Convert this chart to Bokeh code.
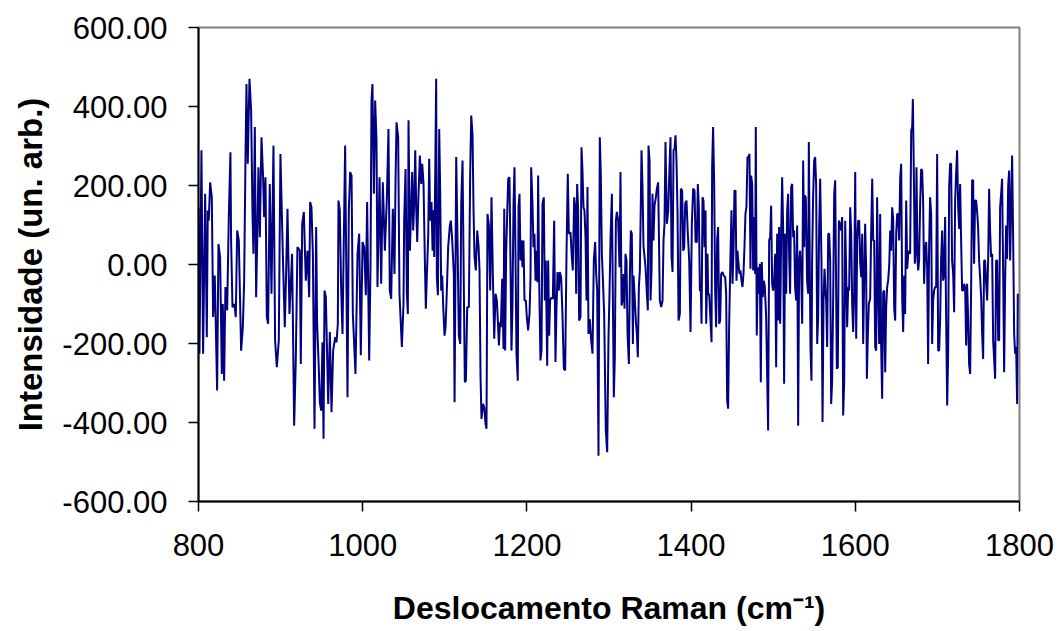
from bokeh.plotting import figure
from bokeh.models import Range1d, FixedTicker, PrintfTickFormatter
from bokeh.embed import file_html
from bokeh.resources import INLINE

# Raman shift (cm^-1) and intensity (arbitrary units) of the measured spectrum
raman_shift = [
    800.0, 801.2, 803.6, 805.6, 808.1, 810.1, 811.3, 812.5, 814.2, 816.2, 817.8, 819.8,
    822.7, 824.3, 826.3, 828.4, 829.6, 831.2, 832.8, 834.9, 836.9, 838.9, 839.7, 841.4,
    843.8, 845.4, 847.1, 849.1, 851.9, 854.0, 855.6, 857.2, 858.4, 860.0, 862.1, 864.1,
    865.7, 866.9, 868.6, 870.2, 871.8, 873.0, 874.7, 876.7, 878.7, 879.9, 881.6, 883.2,
    884.8, 886.8, 888.9, 891.3, 893.3, 895.4, 897.8, 899.8, 902.7, 905.1, 906.7, 908.4,
    910.8, 914.0, 916.5, 918.5, 920.5, 923.4,
    924.6, 926.3, 928.3, 930.7, 932.8, 934.8, 936.0, 937.6, 939.3, 941.3, 943.3, 944.5,
    946.6, 947.8, 949.4, 951.0, 952.3, 953.5, 955.1, 958.0, 960.0, 962.0, 964.0, 966.5,
    968.1, 969.7, 970.5, 972.1, 973.8, 975.4, 978.6, 981.5, 983.1, 984.7, 986.4, 988.0,
    991.2, 993.7, 995.7, 997.7, 999.8, 1001.8, 1003.8, 1005.4, 1007.9, 1009.5, 1010.7, 1011.9,
    1013.6, 1015.2, 1016.8, 1018.0, 1020.5, 1022.5, 1024.5, 1027.0, 1029.4, 1031.4, 1033.0, 1034.7,
    1036.7, 1038.7, 1040.0, 1041.2, 1043.2, 1044.8, 1047.7, 1049.7,
    1050.5, 1052.2, 1053.8, 1055.0, 1055.8, 1057.5, 1058.7, 1060.3, 1061.5, 1062.7, 1064.0, 1065.2,
    1066.4, 1067.6, 1069.6, 1071.3, 1072.5, 1074.1, 1075.7, 1076.9, 1078.2, 1079.8, 1081.0, 1082.2,
    1083.8, 1085.1, 1086.3, 1087.1, 1088.3, 1089.5, 1090.3, 1091.6, 1093.2, 1094.4, 1095.6, 1096.8,
    1098.1, 1099.7, 1100.9, 1102.1, 1104.1, 1106.2, 1107.4, 1109.0, 1111.0, 1111.9, 1113.9, 1115.5,
    1117.1, 1118.8, 1120.0, 1121.6, 1122.8, 1124.4, 1125.7, 1127.3, 1129.3, 1130.9, 1132.2, 1133.8,
    1135.0, 1136.2, 1137.8, 1139.5, 1141.1, 1142.3, 1143.5, 1144.7, 1146.4, 1148.0, 1149.6, 1150.8,
    1152.0, 1153.7, 1155.3, 1156.9, 1158.5, 1160.2, 1161.8, 1163.4, 1164.6, 1165.9, 1167.1, 1168.3,
    1169.9, 1171.5, 1172.4,
    1173.5, 1174.7, 1175.9, 1177.2, 1178.8, 1180.0, 1181.2, 1182.4, 1183.7, 1184.9, 1186.1, 1187.3,
    1188.9, 1189.8, 1191.0, 1192.2, 1193.4, 1194.6, 1195.8, 1197.1, 1198.7, 1199.9, 1201.5, 1203.2,
    1204.4, 1205.2, 1206.8, 1208.0, 1209.2, 1210.5, 1211.7, 1212.9, 1213.7, 1214.9, 1216.5, 1217.8,
    1219.0, 1220.6, 1221.8, 1223.0, 1224.7, 1225.9, 1227.1, 1228.3, 1230.0, 1231.6, 1233.2, 1234.8,
    1236.0, 1237.3, 1238.9, 1240.1, 1241.7, 1243.3, 1245.0, 1246.6, 1248.2, 1249.8, 1251.1, 1253.1,
    1254.7, 1255.9, 1257.6, 1258.8, 1260.0, 1261.2, 1262.4, 1263.6, 1265.3, 1266.5, 1267.7, 1268.9,
    1270.1, 1271.4, 1272.6, 1273.8, 1275.0, 1276.6, 1278.3, 1279.9, 1281.5, 1283.1, 1284.4, 1285.6,
    1287.2, 1288.8, 1290.0, 1291.3, 1292.5, 1294.1, 1296.1, 1297.8,
    1299.4, 1300.6, 1301.9, 1303.5, 1304.7, 1305.9, 1307.1, 1308.4, 1309.6, 1311.2, 1312.8, 1314.0,
    1315.3, 1316.5, 1317.7, 1318.9, 1320.1, 1321.3, 1322.6, 1324.2, 1325.4, 1326.6, 1327.8, 1329.1,
    1329.9, 1331.1, 1332.7, 1333.9, 1335.1, 1336.4, 1337.6, 1338.8, 1339.6, 1340.8, 1342.0, 1343.3,
    1344.5, 1346.1, 1347.3, 1348.1, 1349.4, 1350.6, 1351.8, 1353.0, 1354.2, 1355.4, 1357.1, 1358.3,
    1359.9, 1361.9, 1363.6, 1365.2, 1366.4, 1367.6, 1368.8, 1370.5, 1372.1, 1373.7, 1374.9, 1376.2,
    1377.4, 1378.6, 1379.8, 1381.0, 1382.2, 1383.5, 1384.7, 1386.3, 1387.5, 1389.1, 1390.4, 1391.6,
    1392.8, 1394.4, 1396.0, 1397.7, 1399.3, 1400.9, 1402.5, 1404.2, 1405.4, 1407.0, 1408.2, 1409.4,
    1410.7, 1411.9, 1412.7, 1413.9, 1415.1, 1416.3, 1417.6, 1418.4, 1420.0, 1420.8, 1422.0, 1423.2,
    1424.9,
    1425.6, 1426.8, 1428.1, 1429.3, 1430.5, 1431.7, 1432.9, 1434.2, 1435.4, 1436.6, 1438.2, 1439.8,
    1441.5, 1442.7, 1443.9, 1445.1, 1446.3, 1448.0, 1449.2, 1450.4, 1451.6, 1452.8, 1454.1, 1455.3,
    1456.5, 1457.7, 1458.9, 1460.1, 1461.4, 1462.6, 1463.8, 1465.0, 1466.2, 1467.4, 1468.7, 1469.9,
    1471.1, 1472.3, 1473.1, 1474.4, 1475.6, 1476.8, 1478.0, 1478.8, 1480.0, 1481.3, 1482.5, 1483.7,
    1484.9, 1486.1, 1487.3, 1488.6, 1489.8, 1491.4, 1492.6, 1493.8, 1495.1, 1496.3, 1497.5, 1498.7,
    1499.9, 1501.1, 1502.4, 1503.6, 1504.8, 1506.0, 1507.2, 1508.5, 1509.7, 1510.9, 1512.1, 1513.3,
    1514.5, 1515.8, 1517.0, 1518.2, 1519.4, 1520.6, 1521.9, 1523.1, 1524.3, 1525.5, 1526.7, 1527.9,
    1529.2, 1530.4, 1531.6, 1532.8, 1534.0, 1535.3, 1536.5, 1537.7, 1538.5, 1539.7, 1541.3, 1542.6,
    1543.4, 1544.6, 1545.4, 1546.6, 1547.4, 1548.6, 1549.9, 1551.1,
    1552.3, 1553.6, 1554.8, 1556.0, 1557.2, 1558.8, 1560.1, 1561.3, 1562.5, 1563.7, 1564.5, 1565.7,
    1567.0, 1568.2, 1569.4, 1570.6, 1571.8, 1573.1, 1574.3, 1575.5, 1576.7, 1577.5, 1578.7, 1580.0,
    1581.2, 1582.8, 1584.0, 1585.2, 1586.5, 1587.7, 1588.9, 1590.1, 1591.3, 1592.5, 1593.8, 1595.0,
    1596.2, 1597.4, 1598.6, 1599.9, 1601.1, 1602.3, 1603.5, 1604.7, 1606.0, 1607.2, 1608.4, 1609.6,
    1610.8, 1612.0, 1613.2, 1614.1, 1615.3, 1616.5, 1618.1, 1619.3, 1620.6, 1621.8, 1623.0, 1624.2,
    1625.4, 1626.6, 1627.9, 1629.1, 1630.3, 1631.5, 1632.7, 1634.0, 1635.2, 1636.4, 1637.6, 1638.8,
    1640.0, 1641.3, 1642.5, 1643.7, 1644.9, 1646.1, 1647.4, 1648.6, 1649.8, 1651.0, 1652.2, 1653.4,
    1654.7, 1655.9, 1657.1, 1658.3, 1659.5, 1660.7, 1662.0, 1663.2, 1664.4, 1665.6, 1666.8, 1668.1,
    1669.3, 1670.1, 1671.3, 1672.5, 1673.7, 1674.5, 1675.8, 1676.6,
    1677.7, 1679.0, 1680.2, 1681.4, 1682.6, 1683.8, 1685.1, 1686.3, 1687.5, 1688.7, 1689.9, 1691.1,
    1692.4, 1693.6, 1694.8, 1696.0, 1697.2, 1698.5, 1699.7, 1700.9, 1702.1, 1703.3, 1704.5, 1705.8,
    1707.0, 1708.2, 1709.4, 1710.6, 1711.9, 1713.1, 1714.3, 1715.5, 1716.7, 1717.9, 1719.2, 1720.4,
    1721.6, 1722.8, 1724.0, 1725.3, 1726.5, 1727.7, 1728.9, 1730.1, 1731.3, 1732.6, 1733.8, 1735.0,
    1736.2, 1737.4, 1738.6, 1739.9, 1741.1, 1742.3, 1743.5, 1744.7, 1745.9, 1747.2, 1748.4, 1749.6,
    1750.8, 1752.0, 1753.3, 1754.5, 1755.7, 1756.9, 1758.1, 1759.4, 1760.6, 1761.8, 1763.0, 1764.2,
    1765.4, 1766.7, 1767.9, 1769.1, 1770.3, 1771.5, 1772.8, 1774.0, 1775.2, 1776.4, 1777.6, 1778.8,
    1780.1, 1781.3, 1782.5, 1783.7, 1784.9, 1786.2, 1787.4, 1788.6, 1789.8, 1791.0, 1792.2, 1793.5,
    1794.7, 1795.9, 1797.1, 1797.9,
]

intensity = [
    145, -226, 289, -226, 179, -184, 137, 111, 208, 170, -133, -28,
    -319, 52, 19, -277, -100, -294, -57, -116, 120, 284, 61, -108,
    -100, -133, 86, 61, -218, -159, -41, 263, 457, 255, 470, 390,
    137, 27, 348, -83, 95, 246, 69, 322, 221, 120, 221, -133,
    -150, 204, -74, 301, -192, -260, -192, 280, 27, -159, -24, 141,
    -125, 27, -408, -243, 44, 35,
    -252, 103, 133, -41, 35, -83, 158, 145, 27, -416, 95, -150,
    -268, -349, -370, -197, -441, -66, -83, -353, -171, -374, -218, -184,
    -197, -150, 162, 137, -66, -176, 301, -336, 137, 234, 225, -125,
    -277, 27, 78, -230, 57, 44, -78, 158, -243, -7, 415, 457,
    179, 415, 314, -57, 221, -49, 208, 35, 166, 343, -66, -87,
    141, -24, 213, 360, 322, -74, -209, -100,
    111, 242, -74, -125, 365, 35, 120, 234, 86, 154, 289, 141,
    57, 154, 276, 204, 255, 204, 10, -112, -24, 73, 268, 111,
    158, 35, 137, 19, 221, 470, -32, -78, 343, 183, -66, -28,
    -108, -180, -159, -91, 44, 99, 111, 61, -24, -349, 272, 61,
    -180, -201, 154, 263, 19, -298, -294, -108, -108, 230, 377, 327,
    137, 19, -15, 86, 48, -15, -281, -391, -353, -361, -403, -416,
    128, 99, -66, 170, -24, -188, -74, -91, -142, -205, -146, -159,
    -36, -214, 141,
    -218, 27, 120, 217, 221, 10, -218, -108, 154, 246, 27, -226,
    -294, 145, 179, 10, 61, -7, 61, -91, -91, -133, -167, -125,
    -32, 246, 154, 44, 78, -41, 35, -45, 225, -32, -243, -218,
    154, 170, -91, 10, -256, 10, -180, -91, -83, -87, 111, -247,
    -116, -19, -66, -19, -32, -125, -264, -268, 19, 230, 78, 82,
    19, -15, 170, 145, -74, 204, 137, -142, -133, 297, 238, 145,
    137, 69, -91, 196, -176, -138, -192, -226, 10, 57, -24, -66,
    -484, 322, 230, 27, -32, -125, -420, -475,
    -184, -74, 69, 179, -83, -336, -235, 111, 133, 111, -7, 234,
    -104, -91, -24, -112, 27, 10, -176, -252, -32, 86, 78, -201,
    -28, -74, -142, -176, -235, -57, -15, 162, 289, 196, 48, 19,
    -7, -74, -116, 301, 263, -91, -15, 179, 61, 149, 170, 192,
    208, -91, -108, -91, 61, 103, 310, 103, 137, 246, 322, 19,
    -19, 289, 293, 327, 263, 128, -142, -125, 192, 187, 35, 44,
    154, 162, 78, 10, -171, 103, 192, 187, 57, 57, 204, 145,
    -66, -66, -150, 170, 162, 44, 137, -150, 27, -78, -74, -125,
    -197,
    246, 348, 204, -66, -159, 61, 95, -150, -142, -24, -19, -28,
    -32, -74, -344, -365, -159, 27, 137, -49, 31, 187, 187, -41,
    35, 2, -24, -15, -41, -57, -24, 44, 128, 145, 272, 272,
    280, -11, 225, 204, -15, 120, -24, 348, -180, -7, -74, 2,
    -298, 6, -83, -41, -57, -133, -277, -420, 61, 69, 149, -49,
    -66, -41, 27, -260, 78, -142, 95, -150, 69, 221, 95, -302,
    78, -74, 137, 179, 27, -74, 196, 204, 69, 86, -57, -91,
    99, -408, 10, 35, -19, -150, 263, 44, 175, 170, -41, -74,
    310, -7, -209, -294, 10, 170, 263, 272,
    204, -201, -125, 95, 217, 10, -399, -91, -11, -66, -91, -209,
    78, 78, 10, -353, -294, -74, 179, 213, -74, -264, -260, 111,
    103, 86, 120, -382, -294, 111, -24, -159, -57, -66, 145, 78,
    -100, -171, -74, 234, -188, 61, 111, 111, 2, -32, 78, -201,
    -41, 103, -7, -289, -176, -100, -87, 78, 217, 61, 61, -209,
    -218, 170, -66, -201, 128, -205, -340, -70, -66, -273, -108, -57,
    -41, -3, 86, 35, 145, 116, -112, -142, 78, 128, 128, 61,
    221, 255, -83, -171, -28, -125, 162, -11, 27, 35, 27, 339,
    348, 419, 230, 2, 44, 246, 10, -15,
    10, 154, 242, 238, 162, -49, 35, 57, -7, -252, 44, 170,
    128, -201, -91, -66, -57, -57, 280, -218, -218, -142, 10, 86,
    -41, -24, 120, -125, -357, -226, 196, 255, 255, 10, -24, -121,
    162, 230, 289, 145, 90, 204, 61, -66, -66, -49, -57, -205,
    -49, -133, -252, -277, -57, 213, 213, 2, 162, 162, 133, 95,
    10, -32, -83, -176, -239, 10, 10, -49, -91, 10, 192, 86,
    19, 27, -192, -239, -289, 10, 10, -192, -192, 145, 179, 217,
    -24, -273, -41, 99, 14, 200, 238, 10, 137, 276, 78, -176,
    -226, -209, -353, -74,
]

x_ticks = [800, 1000, 1200, 1400, 1600, 1800]
y_ticks = [-600, -400, -200, 0, 200, 400, 600]

FONT = "Liberation Sans"

p = figure(
    width=1058, height=631,
    output_backend="svg", toolbar_location=None,
    x_range=Range1d(800, 1800), y_range=Range1d(-600, 600),
    min_border_left=198, min_border_right=39,
    min_border_top=27, min_border_bottom=130,
    background_fill_color="white", border_fill_color="white",
)

p.line(raman_shift, intensity, line_color="#000080", line_width=2)

p.grid.visible = False
p.outline_line_color = "#808080"
p.outline_line_width = 2

p.xaxis.ticker = FixedTicker(ticks=x_ticks)
p.yaxis.ticker = FixedTicker(ticks=y_ticks)
p.yaxis.formatter = PrintfTickFormatter(format="%.2f")

for ax in (p.xaxis, p.yaxis):
    ax.axis_line_color = "black"
    ax.axis_line_width = 2
    ax.major_tick_line_color = "black"
    ax.major_tick_line_width = 1.5
    ax.major_tick_in = 0
    ax.major_tick_out = 10
    ax.minor_tick_line_color = None
    ax.major_label_text_font = FONT
    ax.major_label_text_font_size = "31px"
    ax.major_label_text_color = "black"
    ax.axis_label_text_font = FONT
    ax.axis_label_text_font_style = "bold"
    ax.axis_label_text_color = "black"

p.xaxis.axis_label_text_font_size = "32px"
p.yaxis.axis_label_text_font_size = "33px"
p.xaxis.major_label_standoff = 22
p.yaxis.major_label_standoff = 21
p.xaxis.axis_label = "Deslocamento Raman (cm\u207b\u00b9)"
p.yaxis.axis_label = "Intensidade (un. arb.)"
p.xaxis.axis_label_standoff = 31
p.yaxis.axis_label_standoff = 10

open("out.html", "w").write(file_html(p, INLINE))
